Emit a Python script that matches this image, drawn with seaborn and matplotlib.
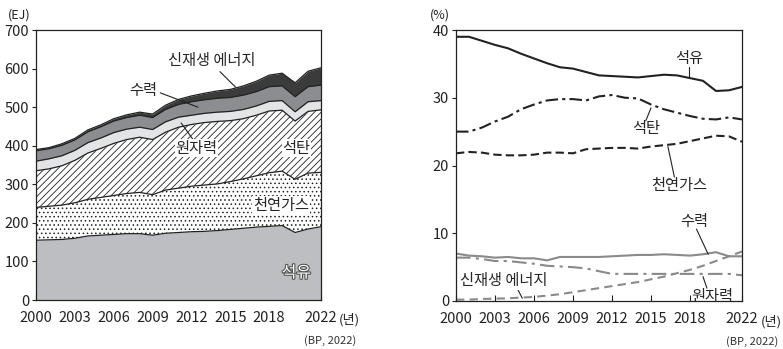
import matplotlib
matplotlib.use("Agg")
import matplotlib.pyplot as plt
import matplotlib.patheffects as pe
import numpy as np
import pandas as pd
import seaborn as sns

years = list(range(2000, 2023))

# primary energy consumption (EJ), per source
oil_ej = [155, 156, 157, 160, 166, 168, 170, 172, 172, 168, 173, 175,
          177, 178, 180, 183, 186, 189, 191, 193, 175, 184, 190]
gas_ej = [85, 87, 89, 92, 95, 98, 101, 104, 107, 105, 112, 115,
          118, 120, 121, 124, 128, 133, 139, 141, 138, 145, 141]
coal_ej = [95, 97, 102, 110, 120, 127, 135, 140, 143, 143, 150, 158,
           160, 162, 162, 158, 156, 157, 160, 158, 151, 160, 162]
nuclear_ej = [25, 26, 26, 26, 27, 27, 28, 27, 26, 26, 27, 26,
              24, 24, 24, 24, 24, 24, 25, 25, 24, 25, 24]
hydro_ej = [27, 26, 27, 27, 28, 29, 30, 30, 31, 31, 32, 33,
            35, 35, 36, 36, 37, 37, 38, 38, 39, 39, 40]
renew_ej = [3, 3, 4, 4, 5, 5, 6, 7, 8, 9, 11, 13,
            15, 17, 19, 21, 24, 27, 30, 33, 36, 40, 45]

# share of primary energy (%)
oil_pct = [39.0, 39.0, 38.4, 37.8, 37.3, 36.5, 35.8, 35.1, 34.5, 34.3, 33.8, 33.3,
           33.2, 33.1, 33.0, 33.2, 33.4, 33.3, 32.9, 32.5, 31.0, 31.1, 31.6]
coal_pct = [25.0, 25.0, 25.6, 26.5, 27.2, 28.3, 29.0, 29.6, 29.8, 29.8, 29.6, 30.2,
            30.4, 30.0, 29.9, 29.0, 28.3, 27.8, 27.3, 26.9, 26.8, 27.1, 26.8]
gas_pct = [21.8, 22.0, 21.9, 21.6, 21.5, 21.5, 21.6, 21.9, 21.9, 21.8, 22.4, 22.5,
           22.6, 22.6, 22.5, 22.8, 23.0, 23.2, 23.6, 24.0, 24.4, 24.3, 23.5]
hydro_pct = [7.0, 6.7, 6.6, 6.4, 6.5, 6.3, 6.3, 6.0, 6.5, 6.5, 6.5, 6.5,
             6.6, 6.7, 6.8, 6.8, 6.9, 6.8, 6.7, 6.9, 7.2, 6.6, 6.6]
nuclear_pct = [6.4, 6.4, 6.2, 5.9, 5.9, 5.7, 5.5, 5.2, 5.1, 5.0, 4.8, 4.4,
               4.0, 4.0, 4.0, 4.0, 4.0, 4.0, 4.0, 4.0, 4.0, 4.0, 3.8]
renew_pct = [0.2, 0.2, 0.3, 0.35, 0.4, 0.5, 0.6, 0.8, 1.0, 1.3, 1.6, 1.9,
             2.2, 2.5, 2.8, 3.2, 3.6, 4.1, 4.6, 5.2, 5.9, 6.6, 7.3]

xticks = [2000, 2003, 2006, 2009, 2012, 2015, 2018, 2022]

sns.set_theme(style="ticks")
plt.rcParams["font.family"] = ["Noto Sans CJK KR", "DejaVu Sans"]
plt.rcParams["hatch.linewidth"] = 0.6
FS = 10.5   # tick labels
LS = 11     # series labels

fig = plt.figure(figsize=(7.83, 3.49), dpi=100)
ax1 = fig.add_axes([36 / 783, 49 / 349, 285 / 783, 270 / 349])
ax2 = fig.add_axes([456 / 783, 48 / 349, 286 / 783, 271 / 349])

# ---- left: stacked area
layers = [
    (oil_ej, dict(facecolor="#bdbec1", hatch=None)),
    (gas_ej, dict(facecolor="white", hatch="....")),
    (coal_ej, dict(facecolor="white", hatch="/////")),
    (nuclear_ej, dict(facecolor="#e3e4e6", hatch=None)),
    (hydro_ej, dict(facecolor="#8c8d90", hatch=None)),
    (renew_ej, dict(facecolor="#3b3b3b", hatch=None)),
]
base = np.zeros(len(years))
for vals, st in layers:
    top = base + np.array(vals)
    ax1.fill_between(years, base, top, facecolor=st["facecolor"], hatch=st["hatch"],
                     edgecolor="#222222", linewidth=0)
    ax1.plot(years, top, color="#222222", lw=0.9)
    base = top

ax1.set_xlim(2000, 2022)
ax1.set_ylim(0, 700)
ax1.set_yticks(range(0, 701, 100))

white_bg = dict(facecolor="white", edgecolor="none", pad=0.5)
ax1.text(2013.6, 620, "신재생 에너지", ha="center", va="center", fontsize=LS)
ax1.plot([2014.2, 2015.4], [592, 552], color="#222222", lw=0.8)
ax1.text(2008.3, 542, "수력", ha="center", va="center", fontsize=LS)
ax1.plot([2009.6, 2012.5], [537, 500], color="#222222", lw=0.8)
ax1.text(2012.4, 394, "원자력", ha="center", va="center", fontsize=LS, bbox=white_bg)
ax1.plot([2012.1, 2011.2], [417, 459], color="#222222", lw=0.8)
ax1.text(2020.1, 394, "석탄", ha="center", va="center", fontsize=LS, bbox=white_bg)
ax1.text(2018.9, 246, "천연가스", ha="center", va="center", fontsize=LS, bbox=white_bg)
ax1.text(2020.1, 70, "석유", ha="center", va="center", fontsize=LS + 0.5, color="white",
         path_effects=[pe.withStroke(linewidth=1.6, foreground="#555555")])

# ---- right: shares
df = pd.DataFrame({
    "year": years * 6,
    "share": oil_pct + coal_pct + gas_pct + hydro_pct + nuclear_pct + renew_pct,
    "source": ["석유"] * 23 + ["석탄"] * 23 + ["천연가스"] * 23
              + ["수력"] * 23 + ["원자력"] * 23 + ["신재생 에너지"] * 23,
})
palette = {"석유": "#222222", "석탄": "#222222", "천연가스": "#222222",
           "수력": "#8a8a8a", "원자력": "#8a8a8a", "신재생 에너지": "#8a8a8a"}
dashes = {"석유": "", "석탄": (6, 2, 1.5, 2), "천연가스": (4, 2),
          "수력": "", "원자력": (7, 2.5, 1.5, 2.5), "신재생 에너지": (4, 2.5)}
sns.lineplot(data=df, x="year", y="share", hue="source", style="source",
             palette=palette, dashes=dashes, linewidth=1.5, legend=False, ax=ax2)
ax2.set_xlim(2000, 2022)
ax2.set_ylim(0, 40)
ax2.set_yticks([0, 10, 20, 30, 40])
ax2.set_xlabel("")
ax2.set_ylabel("")

ax2.text(2017.9, 35.8, "석유", ha="center", va="center", fontsize=LS)
ax2.plot([2017.95, 2017.95], [34.6, 32.9], color="#222222", lw=0.8)
ax2.text(2014.6, 25.4, "석탄", ha="center", va="center", fontsize=LS)
ax2.plot([2014.6, 2015.0], [26.6, 28.5], color="#222222", lw=0.8)
ax2.text(2017.2, 17.0, "천연가스", ha="center", va="center", fontsize=LS)
ax2.plot([2016.8, 2016.3], [18.3, 22.8], color="#222222", lw=0.8)
ax2.text(2018.3, 11.8, "수력", ha="center", va="center", fontsize=LS)
ax2.plot([2018.5, 2019.4], [10.6, 6.9], color="#222222", lw=0.8)
ax2.text(2003.7, 3.0, "신재생 에너지", ha="center", va="center", fontsize=LS, bbox=white_bg)
ax2.plot([2004.7, 2005.1], [1.9, 0.4], color="#222222", lw=0.8)
ax2.text(2019.7, 0.6, "원자력", ha="center", va="center", fontsize=LS)
ax2.plot([2019.3, 2019.0], [1.9, 3.6], color="#222222", lw=0.8)

for ax, unit in ((ax1, "(EJ)"), (ax2, "(%)")):
    ax.set_xticks(xticks)
    ax.tick_params(axis="x", direction="in", length=4, width=0.8, pad=8,
                   labelsize=FS, colors="#222222")
    ax.tick_params(axis="y", direction="out", length=3, width=0.8, pad=2,
                   labelsize=FS, colors="#222222")
    for sp in ax.spines.values():
        sp.set_visible(True)
        sp.set_linewidth(0.9)
        sp.set_color("#222222")
    ax.text(-0.02, 1.03, unit, transform=ax.transAxes, ha="right", va="bottom",
            fontsize=FS - 1.5, color="#222222")
    ax.text(1.064, -0.075, "(년)", transform=ax.transAxes, ha="left", va="center",
            fontsize=FS - 1, color="#222222")
    ax.text(1.125, -0.15, "(BP, 2022)", transform=ax.transAxes, ha="right", va="center",
            fontsize=FS - 2.5, color="#333333")

fig.savefig("out.png", dpi=100)
